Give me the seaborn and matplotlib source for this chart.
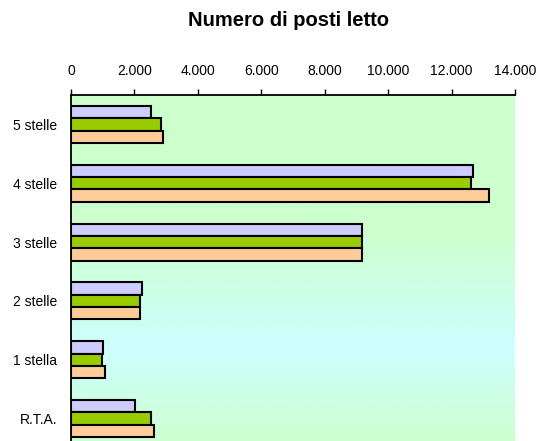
"""
Numero di posti letto per categoria - barre orizzontali con seaborn.
"""
import numpy as np
import pandas as pd
import matplotlib
matplotlib.use("Agg")
import matplotlib.pyplot as plt
import seaborn as sns
from matplotlib.colors import LinearSegmentedColormap
from matplotlib.ticker import FuncFormatter, MultipleLocator

# Dati
CATEGORIE = ["5 stelle", "4 stelle", "3 stelle", "2 stelle", "1 stella", "R.T.A."]
SERIE = ["Serie 1", "Serie 2", "Serie 3"]
SERIE_1 = [2520, 12680, 9170, 2230, 1000, 2010]
SERIE_2 = [2840, 12620, 9170, 2170, 990, 2520]
SERIE_3 = [2910, 13180, 9170, 2170, 1060, 2630]
COLORI = ["#CCCCFF", "#99CC00", "#FFCC99"]

# Tabella in formato lungo per seaborn
DF = pd.DataFrame({
    "categoria": CATEGORIE * 3,
    "serie": [s for s in SERIE for _ in CATEGORIE],
    "posti": SERIE_1 + SERIE_2 + SERIE_3,
})

sns.set_style("white")
plt.rcParams["font.family"] = ["Liberation Sans", "DejaVu Sans"]
plt.rcParams["text.color"] = "black"
plt.rcParams["xtick.color"] = "black"
plt.rcParams["ytick.color"] = "black"

fig = plt.figure(figsize=(5.39, 4.41), dpi=100)
rect = [71 / 539, 1 - 448 / 441, (515 - 71) / 539, (448 - 95) / 441]

# Sfondo sfumato verde / azzurro
bg = fig.add_axes(rect, zorder=0)
grad = LinearSegmentedColormap.from_list(
    "bg", [(0, "#CCFFCC"), (0.38, "#CCFFCC"), (0.72, "#CCFFFF"), (1, "#CCFFCC")])
bg.imshow(np.linspace(0, 1, 256).reshape(-1, 1), cmap=grad, aspect="auto")
bg.axis("off")

ax = fig.add_axes(rect, zorder=1)
ax.set_facecolor("none")

sns.barplot(data=DF, x="posti", y="categoria", hue="serie", order=CATEGORIE,
            hue_order=SERIE, palette=COLORI, saturation=1, width=0.63,
            edgecolor="black", linewidth=1.5, legend=False, ax=ax)

ax.set_xlim(0, 14000)
ax.set_ylim(5.5, -0.5)
ax.xaxis.tick_top()
ax.xaxis.set_major_locator(MultipleLocator(2000))
ax.xaxis.set_major_formatter(FuncFormatter(lambda v, p: f"{v:,.0f}".replace(",", ".")))
ax.tick_params(axis="x", direction="out", length=4, width=1, pad=8, labelsize=10,
               colors="black")
ax.set_yticks(np.arange(-0.5, 6, 1), minor=True)
ax.tick_params(axis="y", which="major", length=0, pad=10, labelsize=10, colors="black")
ax.tick_params(axis="y", which="minor", direction="out", length=4, width=1)
ax.set_xlabel("")
ax.set_ylabel("")

for side in ["right", "bottom"]:
    ax.spines[side].set_visible(False)
for side in ["top", "left"]:
    ax.spines[side].set_color("black")
    ax.spines[side].set_linewidth(1.3)

fig.text(289 / 539, 1 - 20 / 441, "Numero di posti letto", ha="center", va="center",
         fontsize=14.5, fontweight="bold", color="black")

fig.savefig("out.png", dpi=100)
